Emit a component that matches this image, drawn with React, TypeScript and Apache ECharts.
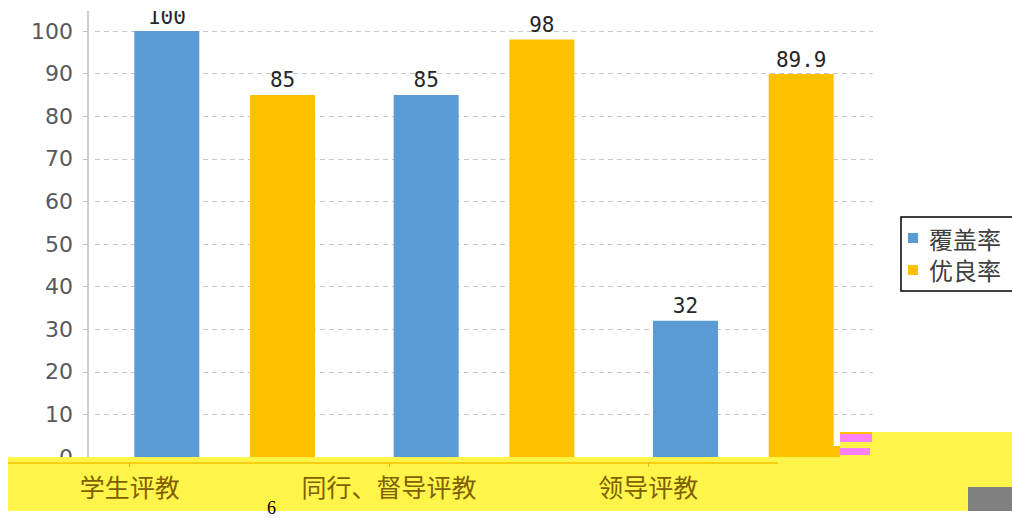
import React, { useEffect, useRef } from "react";
import * as echarts from "echarts";

const categories = ["学生评教", "同行、督导评教", "领导评教"];
const seriesNames = ["覆盖率", "优良率"];
const coverage = [100, 85, 32];
const excellent = [85, 98, 89.9];
const yMin = 0;
const yMax = 100;
const yInterval = 10;
const stray = "6";

export default function App() {
  const ref = useRef<HTMLDivElement>(null);
  useEffect(() => {
    if (!ref.current) return;
    const chart = echarts.init(ref.current, null, { renderer: "svg" });
    const labelStyle = {
      show: true,
      position: "top",
      distance: 4,
      fontFamily: "DejaVu Sans Mono",
      fontSize: 21,
      color: "#262626",
    };
    chart.setOption({
      animation: false,
      backgroundColor: "#ffffff",
      grid: [
        { left: 95, right: 139, top: 31, bottom: 61 },
        { left: 0, width: 778, top: 457, height: 6 },
      ],
      xAxis: [
        {
          type: "category",
          gridIndex: 0,
          data: categories,
          axisLine: { show: false },
          axisTick: { show: false },
          axisLabel: { show: false },
        },
        {
          type: "category",
          gridIndex: 1,
          data: categories,
          z: 200,
          axisLine: { show: false },
          axisTick: {
            show: true,
            alignWithLabel: true,
            length: 4,
            lineStyle: { color: "#F0B800", width: 1 },
          },
          axisLabel: {
            margin: 10,
            fontFamily: "Noto Sans CJK SC",
            fontSize: 25,
            color: "#7f5f00",
          },
        },
      ],
      yAxis: [
        {
          type: "value",
          gridIndex: 0,
          min: yMin,
          max: yMax,
          interval: yInterval,
          offset: 7,
          axisLine: { show: false },
          axisTick: { show: true, length: 5, lineStyle: { color: "#BFBFBF" } },
          axisLabel: {
            margin: 15,
            fontFamily: "DejaVu Sans",
            fontSize: 22,
            color: "#595959",
          },
          splitLine: {
            show: true,
            lineStyle: { color: "#C8C8C8", type: [5, 4], width: 1 },
          },
        },
        { type: "value", gridIndex: 1, show: false },
      ],
      legend: {
        orient: "vertical",
        left: 901,
        top: 217,
        backgroundColor: "#ffffff",
        borderColor: "#000000",
        borderWidth: 1.5,
        borderRadius: 0,
        padding: [9, 40, 9, 7],
        itemGap: 8,
        itemWidth: 10,
        itemHeight: 10,
        icon: "rect",
        textStyle: {
          fontFamily: "Noto Sans CJK SC",
          fontSize: 24,
          color: "#404040",
          padding: [0, 0, 0, 6],
        },
        data: seriesNames,
      },
      series: [
        {
          name: seriesNames[0],
          type: "bar",
          xAxisIndex: 0,
          yAxisIndex: 0,
          data: coverage,
          barWidth: 65,
          barGap: "78%",
          itemStyle: { color: "#5B9BD5" },
          label: labelStyle,
        },
        {
          name: seriesNames[1],
          type: "bar",
          xAxisIndex: 0,
          yAxisIndex: 0,
          data: excellent,
          barWidth: 65,
          barGap: "78%",
          itemStyle: { color: "#FFC000" },
          label: labelStyle,
        },
      ],
      graphic: [
        {
          type: "rect",
          z: 100,
          shape: { x: 0, y: 0, width: 895, height: 11 },
          style: { fill: "#ffffff" },
        },
        {
          type: "line",
          z: 90,
          shape: { x1: 88, y1: 10, x2: 88, y2: 457 },
          style: { stroke: "#BFBFBF", lineWidth: 1.5 },
        },
        {
          type: "rect",
          z: 100,
          shape: { x: 8, y: 457, width: 1004, height: 54 },
          style: { fill: "#FFF54A" },
        },
        {
          type: "rect",
          z: 100,
          shape: { x: 840, y: 432, width: 172, height: 26 },
          style: { fill: "#FFF54A" },
        },
        {
          type: "rect",
          z: 101,
          shape: { x: 823, y: 446, width: 17, height: 11 },
          style: { fill: "#FFC000" },
        },
        {
          type: "rect",
          z: 101,
          shape: { x: 840, y: 432, width: 32, height: 2 },
          style: { fill: "#FFC000" },
        },
        {
          type: "rect",
          z: 101,
          shape: { x: 840, y: 434, width: 32, height: 8 },
          style: { fill: "#FF80FF" },
        },
        {
          type: "rect",
          z: 101,
          shape: { x: 840, y: 448, width: 30, height: 7 },
          style: { fill: "#FF80FF" },
        },
        {
          type: "rect",
          z: 101,
          shape: { x: 968, y: 487, width: 44, height: 24 },
          style: { fill: "#808080" },
        },
        {
          type: "line",
          z: 101,
          shape: { x1: 8, y1: 463, x2: 778, y2: 463 },
          style: { stroke: "#F5C000", lineWidth: 1.5 },
        },
        {
          type: "text",
          z: 102,
          x: 267,
          y: 499,
          style: {
            text: stray,
            fontFamily: "Liberation Serif",
            fontSize: 18,
            fill: "#000000",
          },
        },
      ],
    });
    return () => chart.dispose();
  }, []);
  return (
    <div
      ref={ref}
      style={{ position: "fixed", left: 0, top: 0, width: 1012, height: 518 }}
    />
  );
}
